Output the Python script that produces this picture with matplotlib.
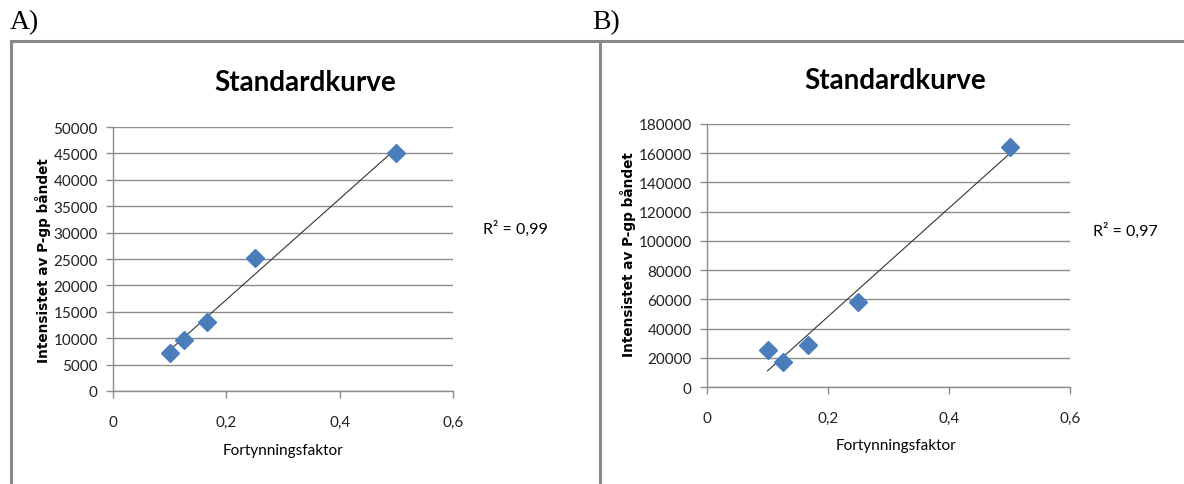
import matplotlib
matplotlib.use("Agg")
import matplotlib.pyplot as plt
import numpy as np
from matplotlib.lines import Line2D

# ---- data ----
dilution = [0.1, 0.125, 0.1667, 0.25, 0.5]
intensity_a = [7200, 9600, 13000, 25200, 45000]
intensity_b = [25500, 17000, 28700, 58000, 164300]

xticks = [0, 0.2, 0.4, 0.6]
xtick_labels = ["0", "0,2", "0,4", "0,6"]
yticks_a = [0, 5000, 10000, 15000, 20000, 25000, 30000, 35000, 40000, 45000, 50000]
yticks_b = [0, 20000, 40000, 60000, 80000, 100000, 120000, 140000, 160000, 180000]

title = "Standardkurve"
xlabel = "Fortynningsfaktor"
ylabel = "Intensistet av P-gp båndet"
r2_a = "R² = 0,99"
r2_b = "R² = 0,97"

W, H = 1184, 485
fig = plt.figure(figsize=(W / 100, H / 100), dpi=100)

SANS = ["Lato", "DejaVu Sans"]
MARK = "#4a7ebb"
GRID = "#8c8c8c"


def px_axes(x0, x1, ytop, ybot):
    return fig.add_axes([x0 / W, 1 - ybot / H, (x1 - x0) / W, (ybot - ytop) / H])


def panel(ax, y, yticks):
    ax.set_xlim(0, 0.6)
    ax.set_ylim(0, yticks[-1])
    ax.set_xticks(xticks)
    ax.set_xticklabels(xtick_labels, fontfamily=SANS, fontsize=11, color="#222222")
    ax.set_yticks(yticks)
    ax.set_yticklabels([str(v) for v in yticks], fontfamily=SANS, fontsize=11, color="#222222")
    ax.tick_params(axis="both", length=5, width=1, color=GRID, direction="out")
    ax.tick_params(axis="y", pad=6)
    ax.tick_params(axis="x", pad=12)
    ax.grid(axis="y", color=GRID, linewidth=1)
    ax.set_axisbelow(True)
    for s in ["top", "right"]:
        ax.spines[s].set_visible(False)
    for s in ["left", "bottom"]:
        ax.spines[s].set_color(GRID)
        ax.spines[s].set_linewidth(1)
    # trendline from linear fit of the data
    k, m = np.polyfit(dilution, y, 1)
    xs = np.array([min(dilution), max(dilution)])
    ax.plot(xs, k * xs + m, color="#333333", linewidth=0.8, zorder=3)
    ax.plot(dilution, y, linestyle="none", marker="D", markersize=9.5,
            color=MARK, markeredgecolor=MARK, zorder=4)


axA = px_axes(113, 453, 128, 392)
panel(axA, intensity_a, yticks_a)
axB = px_axes(707, 1070, 125, 388)
panel(axB, intensity_b, yticks_b)

# titles
fig.text(305 / W, 1 - 83 / H, title, fontfamily=SANS, fontweight="bold", fontsize=20,
         ha="center", va="center")
fig.text(895 / W, 1 - 81 / H, title, fontfamily=SANS, fontweight="bold", fontsize=20,
         ha="center", va="center")

# axis labels
fig.text(283 / W, 1 - 451 / H, xlabel, fontfamily=SANS, fontsize=11, ha="center", va="center")
fig.text(896 / W, 1 - 446 / H, xlabel, fontfamily=SANS, fontsize=11, ha="center", va="center")
fig.text(43 / W, 1 - 261 / H, ylabel, fontfamily="DejaVu Sans", fontweight="bold", fontsize=9.8,
         rotation=90, ha="center", va="center")
fig.text(628 / W, 1 - 255 / H, ylabel, fontfamily="DejaVu Sans", fontweight="bold", fontsize=9.8,
         rotation=90, ha="center", va="center")

# R² labels
fig.text(483 / W, 1 - 229 / H, r2_a, fontfamily=SANS, fontsize=11.5, ha="left", va="center")
fig.text(1093 / W, 1 - 231 / H, r2_b, fontfamily=SANS, fontsize=11.5, ha="left", va="center")

# panel letters
fig.text(10 / W, 1 - 23 / H, "A)", fontfamily="Liberation Serif", fontsize=20, ha="left", va="center")
fig.text(592 / W, 1 - 23 / H, "B)", fontfamily="Liberation Serif", fontsize=20, ha="left", va="center")

# frames
frame = dict(color="#888888", linewidth=2.2, transform=fig.transFigure, figure=fig)
fig.lines.append(Line2D([11 / W, 1], [1 - 42 / H, 1 - 42 / H], **frame))
fig.lines.append(Line2D([11 / W, 11 / W], [0, 1 - 42 / H], **frame))
fig.lines.append(Line2D([600 / W, 600 / W], [0, 1 - 42 / H], **frame))

fig.savefig("out.png", dpi=100)
